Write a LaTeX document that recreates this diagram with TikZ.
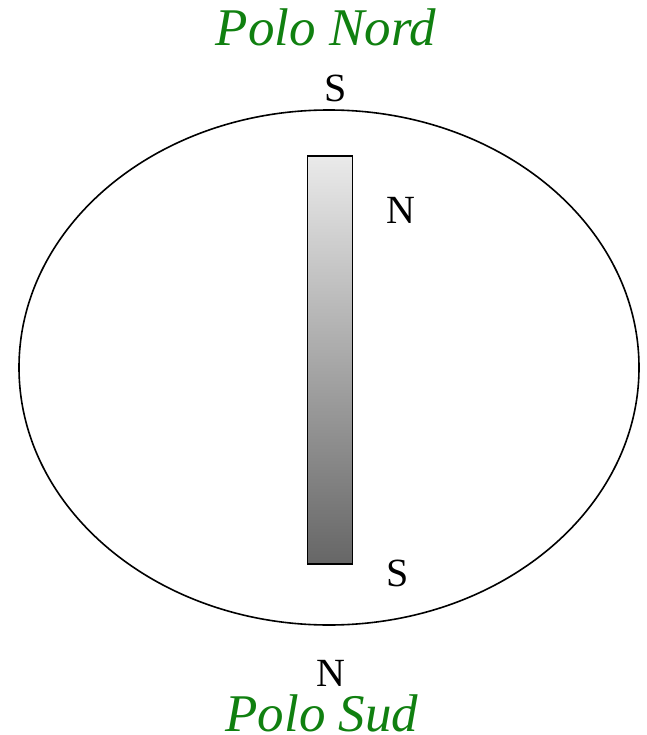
\documentclass[tikz,border=0pt]{standalone}
\usepackage{fontspec}
\setmainfont{Liberation Serif}
\definecolor{polegreen}{RGB}{16,128,16}
\begin{document}
\begin{tikzpicture}[x=1pt,y=-1pt,
  lbl/.style={anchor=base,inner sep=0pt,font=\fontsize{40}{40}\selectfont},
  pole/.style={anchor=base,inner sep=0pt,text=polegreen,font=\fontsize{53}{53}\selectfont\itshape}]
\useasboundingbox (0,0) rectangle (646,735);
\draw[line width=1.6pt] (329,367.5) ellipse [x radius=310, y radius=257.5];
\node[draw=black,line width=1.6pt,minimum width=45pt,minimum height=408pt,inner sep=0pt,
  top color={rgb,255:red,234;green,234;blue,234},bottom color={rgb,255:red,102;green,102;blue,102}] (bar) at (330,360) {};
\node[pole] (nord) at (326,46) {Polo Nord};
\node[lbl] (s1) at (336,102) {S};
\node[lbl] (n1) at (401,223) {N};
\node[lbl] (s2) at (398,586) {S};
\node[lbl] (n2) at (331,686) {N};
\node[pole] (sud) at (322,731) {Polo Sud};
\end{tikzpicture}
\end{document}
